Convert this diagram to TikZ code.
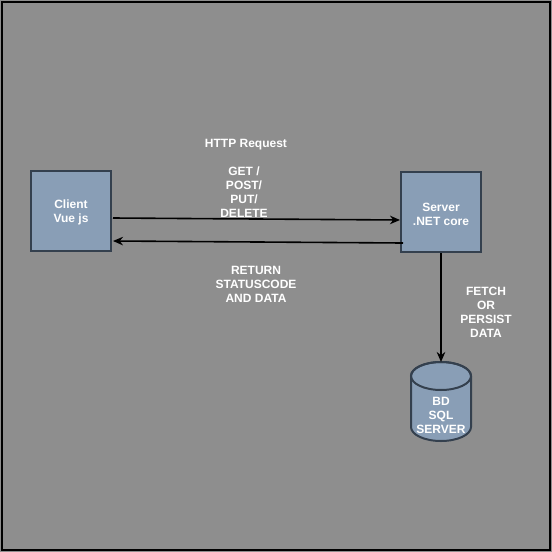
\documentclass[tikz,border=0pt]{standalone}
\usepackage{fontspec}
\setmainfont{Liberation Sans}
\usetikzlibrary{arrows.meta}
\definecolor{bg}{RGB}{142,142,142}
\definecolor{boxfill}{RGB}{137,158,182}
\definecolor{boxline}{RGB}{52,64,78}
\tikzset{
  box/.style={draw=boxline, fill=boxfill, line width=2pt, minimum width=80pt, minimum height=80pt, inner sep=0pt},
  lbl/.style={text=white, font=\bfseries\fontsize{12}{14}\selectfont, align=center, inner sep=0pt},
  conn/.style={draw=black, line width=1.6pt, -{Stealth[length=10pt,width=8.5pt]}},
}
\begin{document}
\begin{tikzpicture}[x=1pt,y=-1pt]
\useasboundingbox (0,0) rectangle (552,552);
\fill[bg] (0,0) rectangle (552,552);
\draw[black, line width=2pt] (2,2) rectangle (550,550);
\node[box] (client) at (71,211) {};
\node[lbl] (clientt) at (71,212.5) {Client\\Vue js};
\node[box] (server) at (441,212) {};
\node[lbl] (servert) at (441,214.5) {Server\\.NET core};
% cylinder
\path[draw=boxline, fill=boxfill, line width=2pt]
  (411,376) -- (411,427) arc[start angle=180, end angle=360, x radius=30, y radius=-14] -- (471,376)
  arc[start angle=0, end angle=180, x radius=30, y radius=-14] -- cycle;
\draw[boxline, line width=2pt] (441,376) ellipse[x radius=30, y radius=14];
\coordinate (dbtop) at (441,362);
\node[lbl] (dbt) at (441,415.5) {BD\\SQL\\SERVER};
% connectors
\coordinate (c1) at (113,218);
\coordinate (s1) at (400,220);
\coordinate (s2) at (403,243);
\coordinate (c2) at (113,241);
\coordinate (sb) at (441,253);
\draw[conn] (c1) -- (s1);
\draw[conn] (s2) -- (c2);
\draw[conn] (sb) -- (dbtop);
% labels
\node[lbl] (http) at (246,144.5) {HTTP Request};
\node[lbl] (get) at (244,192.5) {GET /\\POST/\\PUT/\\DELETE};
\node[lbl] (ret) at (256,284.5) {RETURN\\STATUSCODE\\AND DATA};
\node[lbl] (fetch) at (486,312.5) {FETCH\\OR\\PERSIST\\DATA};
\end{tikzpicture}
\end{document}
